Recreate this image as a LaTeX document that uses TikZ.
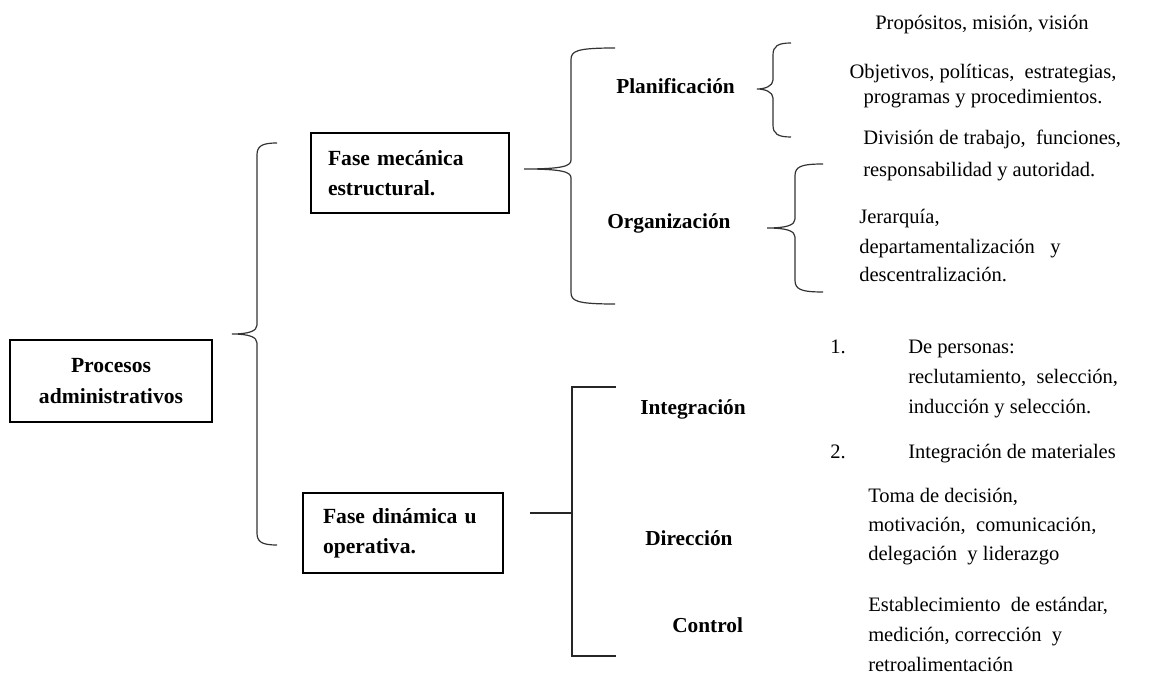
\documentclass[tikz,border=0pt]{standalone}
\usepackage{fontspec}
\setmainfont{Liberation Serif}
\newcommand{\curlybrace}[6]{%
  \draw[bracestyle] (#6,#4) .. controls (#3+5,#4) and (#3,#4+3) .. (#3,#4+12)
    -- (#3,#2-9) .. controls (#3,#2-3) and (#3-8,#2) .. (#1,#2)
    .. controls (#3-8,#2) and (#3,#2+3) .. (#3,#2+9)
    -- (#3,#5-12) .. controls (#3,#5-3) and (#3+5,#5) .. (#6,#5);}
\begin{document}
\begin{tikzpicture}[x=0.75pt,y=-0.75pt,
  box/.style={draw=black, line width=2pt, font=\bfseries\fontsize{16.2}{22.8}\selectfont, inner ysep=0pt},
  lbl/.style={font=\bfseries\fontsize{16}{18}\selectfont, anchor=base west, inner sep=0pt},
  txt/.style={font=\fontsize{15.4}{18}\selectfont, anchor=base west, inner sep=0pt},
  ctxt/.style={font=\fontsize{15.4}{18}\selectfont, anchor=base, inner sep=0pt},
  bracestyle/.style={draw=black!80, line width=0.9pt},
  bracket/.style={draw=black!85, line width=0.9pt}]
\useasboundingbox (0,0) rectangle (1154,677);

% boxes
\node[box, minimum width=151.5pt, minimum height=61.5pt, align=center] (proc) at (111,381) {Procesos\\administrativos};
\node[box, minimum width=148.5pt, minimum height=60pt, text width=123pt, inner xsep=12.75pt, align=left] (mec) at (410,173) {Fase mecánica\\estructural.};
\node[box, minimum width=150pt, minimum height=60pt, text width=120pt, inner xsep=15pt, align=left] (din) at (403,533) {Fase dinámica u\\operativa.};

% second level labels
\node[lbl] (plan) at (616,94) {Planificación};
\node[lbl] (org) at (607,229) {Organización};
\node[lbl] (integ) at (640,415) {Integración};
\node[lbl] (dir) at (645,545) {Dirección};
\node[lbl] (ctrl) at (672,632) {Control};

% brace tips
\coordinate (t1) at (232,334);
\coordinate (t2) at (524,169);
\coordinate (t3) at (757,89);
\coordinate (t4) at (767,228);
\curlybrace{232}{334}{257}{143}{545}{277}
\curlybrace{524}{169}{571}{48}{304}{615}
\curlybrace{757}{89}{773}{43}{137}{791}
\curlybrace{767}{228}{795}{164}{292}{823}

% square bracket for fase dinamica
\coordinate (sqs) at (530,513);
\coordinate (sqm) at (572,513);
\coordinate (sqt) at (616,387);
\coordinate (sqb) at (616,656);
\draw[bracket] (sqs) -- (sqm);
\draw[bracket] (sqt) -- (sqt -| sqm) -- (sqb -| sqm) -- (sqb);

% planificacion texts
\node[ctxt] (p1) at (982,30) {Propósitos, misión, visión};
\node[ctxt] (p2a) at (983,79) {Objetivos, políticas,~ estrategias,};
\node[ctxt] (p2b) at (983,104) {programas y procedimientos.};

% organizacion texts
\node[txt] (o1a) at (863,145) {División de trabajo,~ funciones,};
\node[txt] (o1b) at (863,177) {responsabilidad y autoridad.};
\node[txt] (o2a) at (859,224) {Jerarquía,};
\node[txt] (o2b) at (859,254) {departamentalización~~ y};
\node[txt] (o2c) at (859,282) {descentralización.};

% integracion texts
\node[txt] (i1n) at (830,354) {1.};
\node[txt] (i1a) at (908,354) {De personas:};
\node[txt] (i1b) at (908,384) {reclutamiento,~ selección,};
\node[txt] (i1c) at (908,414) {inducción y selección.};
\node[txt] (i2n) at (830,459) {2.};
\node[txt] (i2a) at (908,459) {Integración de materiales};

% direccion texts
\node[txt] (d1) at (868,502) {Toma de decisión,};
\node[txt] (d2) at (868,531) {motivación,~ comunicación,};
\node[txt] (d3) at (868,560) {delegación~ y liderazgo};

% control texts
\node[txt] (c1) at (868,611) {Establecimiento~ de estándar,};
\node[txt] (c2) at (868,641) {medición, corrección~ y};
\node[txt] (c3) at (868,671) {retroalimentación};
\end{tikzpicture}
\end{document}
